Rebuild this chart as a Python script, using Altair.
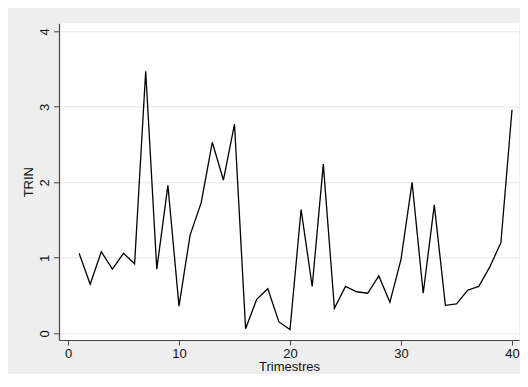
import altair as alt
import pandas as pd

trimestres = list(range(1, 41))
trin = [1.06, 0.65, 1.08, 0.85, 1.06, 0.92, 3.47, 0.85, 1.96, 0.36,
        1.30, 1.73, 2.53, 2.03, 2.77, 0.06, 0.45, 0.59, 0.15, 0.05,
        1.64, 0.62, 2.24, 0.33, 0.62, 0.55, 0.53, 0.76, 0.41, 0.98,
        2.00, 0.53, 1.70, 0.37, 0.39, 0.57, 0.62, 0.88, 1.20, 2.96]
x_ticks = [0, 10, 20, 30, 40]
y_ticks = [0, 1, 2, 3, 4]

df = pd.DataFrame({"Trimestres": trimestres, "TRIN": trin})

W = 460
H = 316.7

chart = alt.Chart(df).mark_line(color="black", strokeWidth=1.3).encode(
    x=alt.X("Trimestres:Q",
            scale=alt.Scale(domain=[-0.81, 40.63], nice=False, zero=False),
            axis=alt.Axis(values=x_ticks, grid=False, title="Trimestres",
                          labelFontSize=13, titleFontSize=13,
                          titleFontWeight="normal",
                          tickSize=5, labelPadding=2,
                          titleBaseline="alphabetic", titleY=30.5,
                          titleX=W / 2, titleAlign="center")),
    y=alt.Y("TRIN:Q",
            scale=alt.Scale(domain=[-0.089, 4.106], nice=False, zero=False),
            axis=alt.Axis(values=y_ticks, grid=True, gridColor="#e6e6e6",
                          title="TRIN",
                          labelFontSize=13, titleFontSize=13,
                          titleFontWeight="normal",
                          labelAngle=270, labelAlign="center",
                          labelBaseline="alphabetic",
                          tickSize=5.5, labelPadding=5.5,
                          titleAngle=270, titleAlign="center",
                          titleBaseline="alphabetic",
                          titleX=-26.7, titleY=H / 2)),
).properties(
    width=W,
    height=H,
    background="#eeeeee",
    autosize=alt.AutoSizeParams(type="none"),
    padding={"left": 51, "top": 15.3, "right": 1, "bottom": 34},
).configure_view(
    fill="white", stroke=None
).configure_axis(
    domainColor="#444444", tickColor="#444444", domainWidth=1.2, tickWidth=1,
    labelColor="#111111", titleColor="#111111",
    labelFont="Liberation Sans", titleFont="Liberation Sans",
)

chart.save("out.html", embed_options={"renderer": "svg", "actions": False})
